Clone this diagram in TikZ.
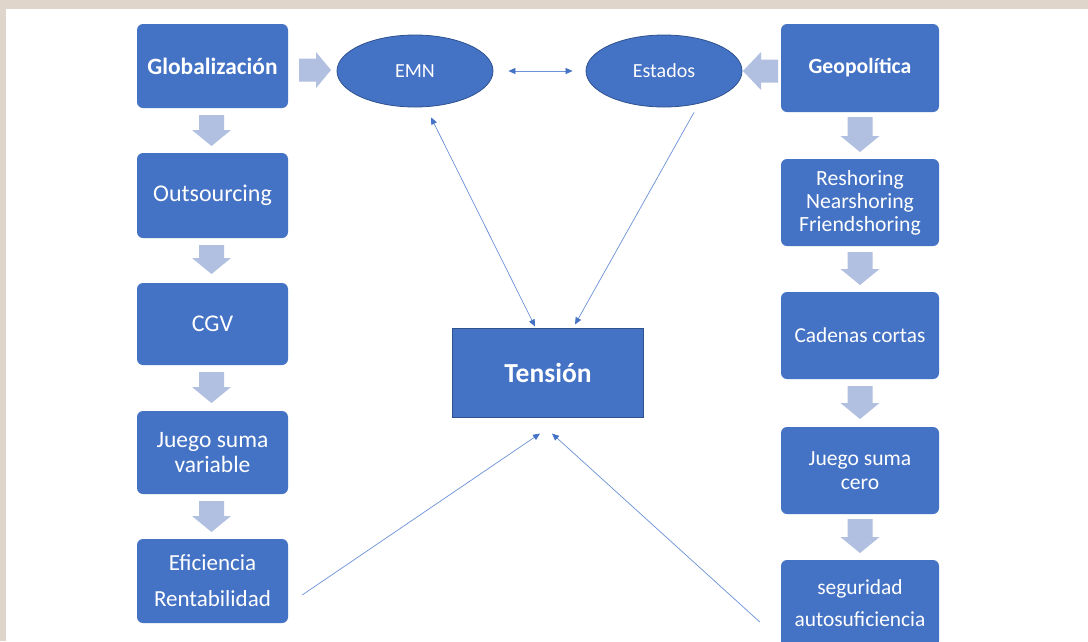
\documentclass[tikz,border=0pt]{standalone}
\usepackage{fontspec}
\setmainfont{Carlito}
\usetikzlibrary{arrows.meta,shapes.geometric,calc}
\definecolor{bg}{HTML}{E0D5CB}
\definecolor{boxblue}{HTML}{4472C4}
\definecolor{edgeblue}{HTML}{2F528F}
\definecolor{arrfill}{HTML}{B1BFE0}
\definecolor{linecol}{HTML}{6B91D6}
\newcommand{\blockdown}[3]{\fill[arrfill] ({#1-12.5},#2) -- ({#1+12.5},#2) -- ({#1+12.5},{#3-16}) -- ({#1+19.5},{#3-16}) -- (#1,#3) -- ({#1-19.5},{#3-16}) -- ({#1-12.5},{#3-16}) -- cycle;}
\begin{document}
\begin{tikzpicture}[x=1pt,y=-1pt,
  box/.style={rectangle, rounded corners=6pt, fill=boxblue, text=white, align=center, inner sep=0pt},
  lbox/.style={box, minimum width=151pt},
  rbox/.style={box, minimum width=158pt},
  oval/.style={ellipse, fill=boxblue, draw=edgeblue, line width=0.8pt, text=white, minimum width=156pt, minimum height=72pt, inner sep=0pt, font=\fontsize{20}{24}\selectfont},
  thinline/.style={draw=linecol, line width=0.7pt},
  tipend/.style={-{Triangle[length=7pt,width=6pt,color=boxblue]}},
  tipboth/.style={{Triangle[length=7pt,width=6pt,color=boxblue]}-{Triangle[length=7pt,width=6pt,color=boxblue]}}
]
\clip (0,0) rectangle (1088,641);
\useasboundingbox (0,0) rectangle (1088,641);
\fill[bg] (0,0) rectangle (1088,641);
\fill[white] (6,9) rectangle (1088,641);

% left column
\node[lbox, minimum height=84pt, font=\fontsize{23.4}{26}\selectfont\bfseries] (glob) at (212.5,66) {Globalización};
\node[lbox, minimum height=85pt, font=\fontsize{24}{26}\selectfont] (outs) at (212.5,195.5) {Outsourcing};
\node[lbox, minimum height=82pt, font=\fontsize{24}{26}\selectfont] (cgv) at (212.5,324) {CGV};
\node[lbox, minimum height=83pt, font=\fontsize{23.5}{25}\selectfont] (jsv) at (212.5,452.5) {Juego suma\\variable};
\node[lbox, minimum height=84pt, font=\fontsize{23}{36}\selectfont] (efi) at (212.5,581) {Eficiencia\\Rentabilidad};

% right column
\node[rbox, minimum height=88pt, font=\fontsize{21.7}{24}\selectfont\bfseries] (geo) at (860,68) {Geopolítica};
\node[rbox, minimum height=87pt, font=\fontsize{21.7}{23}\selectfont] (resh) at (860,202.5) {Reshoring\\Nearshoring\\Friendshoring};
\node[rbox, minimum height=87pt, font=\fontsize{21.3}{24}\selectfont] (cad) at (860,335.5) {Cadenas cortas};
\node[rbox, minimum height=87pt, font=\fontsize{21.6}{24}\selectfont] (jsc) at (860,470.5) {Juego suma\\cero};
\node[rbox, minimum height=87pt, font=\fontsize{21.4}{32}\selectfont] (seg) at (860,603.5) {seguridad\\autosuficiencia};

% ellipses
\node[oval] (emn) at (415,71) {EMN};
\node[oval] (est) at (664,71) {Estados};

% central
\node[rectangle, fill=boxblue, draw=edgeblue, line width=1pt, minimum width=191pt, minimum height=89pt, text=white, font=\fontsize{27.5}{30}\selectfont\bfseries] (ten) at (548,372.5) {Tensión};

% block arrows
\blockdown{211.5}{115}{146}
\blockdown{211.5}{245}{274}
\blockdown{211.5}{372}{403}
\blockdown{211.5}{501}{532}
\blockdown{860}{117}{152}
\blockdown{860}{252}{285}
\blockdown{860}{386}{419}
\blockdown{860}{519}{553}
\fill[arrfill] (299,58.5) -- (316,58.5) -- (316,52) -- (331,70) -- (316,88) -- (316,81.5) -- (299,81.5) -- cycle;
\fill[arrfill] (778,59.5) -- (761,59.5) -- (761,52) -- (743,71) -- (761,90) -- (761,82.5) -- (778,82.5) -- cycle;

% thin connectors
\coordinate (emnlow) at ($(emn.south)+(16,10)$);
\coordinate (tentopA) at ($(ten.north)+(-13,-1)$);
\coordinate (estlow) at ($(est.south)+(30,5)$);
\coordinate (tentopB) at ($(ten.north)+(27,-3)$);
\coordinate (efiend) at ($(efi.east)+(14,14)$);
\coordinate (tenbotA) at ($(ten.south)+(-8,16)$);
\coordinate (segend) at ($(seg.west)+(-21,18.5)$);
\coordinate (tenbotB) at ($(ten.south)+(4,16)$);
\coordinate (emnright) at ($(emn.east)+(15,0)$);
\coordinate (estleft) at ($(est.west)+(-13,0)$);

\draw[thinline, tipboth] (emnlow) -- (tentopA);
\draw[thinline, tipend] (estlow) -- (tentopB);
\draw[thinline, tipend] (efiend) -- (tenbotA);
\draw[thinline, tipend] (segend) -- (tenbotB);
\draw[thinline, tipboth] (emnright) -- (estleft);
\end{tikzpicture}
\end{document}
